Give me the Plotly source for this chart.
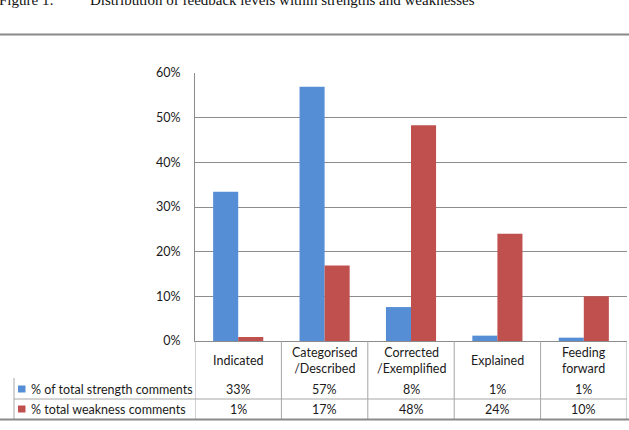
import plotly.graph_objects as go

categories = ["Indicated", "Categorised<br>/Described", "Corrected<br>/Exemplified", "Explained", "Feeding<br>forward"]
series_names = ["% of total strength comments", "% total weakness comments"]
strength = [33.4, 56.9, 7.6, 1.2, 0.75]
weakness = [0.9, 16.9, 48.3, 24.0, 10.0]
colors = ["#558ED5", "#C0504D"]
y_ticks = [0, 10, 20, 30, 40, 50, 60]
caption_label = "Figure 1:"
caption_text = "Distribution of feedback levels within strengths and weaknesses"

W, H = 629, 430
L, R, T, B = 195, 2, 73, 89
pw = W - L - R
ph = H - T - B

def px_x(px):
    return (px - L) / pw

def px_y(py):
    return (H - B - py) / ph

font_family = "Lato, 'Liberation Sans', Arial, sans-serif"
txt_col = "#1a1a1a"
grid_col = "#8c8c8c"
tab_col = "#a6a6a6"

fig = go.Figure()
idx = list(range(len(categories)))
for name, vals, col in zip(series_names, [strength, weakness], colors):
    fig.add_trace(go.Bar(x=idx, y=vals, name=name, marker=dict(color=col, line=dict(width=0)),
                         showlegend=False, hoverinfo="y"))

shapes = []
annotations = []

# table vertical lines
for k in range(len(categories) + 1):
    shapes.append(dict(type="line", xref="x", yref="paper", x0=k - 0.5, x1=k - 0.5,
                       y0=px_y(341), y1=px_y(419), line=dict(color=tab_col, width=1)))
# legend column left line
shapes.append(dict(type="line", xref="paper", yref="paper", x0=px_x(14), x1=px_x(14),
                   y0=px_y(378), y1=px_y(419), line=dict(color=tab_col, width=1)))
# row separator
shapes.append(dict(type="line", xref="paper", yref="paper", x0=px_x(14), x1=1,
                   y0=px_y(399), y1=px_y(399), line=dict(color=tab_col, width=1)))
# document rules
shapes.append(dict(type="line", xref="paper", yref="paper", x0=px_x(0), x1=px_x(W),
                   y0=px_y(419.5), y1=px_y(419.5), line=dict(color="#8a8a8a", width=2)))
shapes.append(dict(type="line", xref="paper", yref="paper", x0=px_x(0), x1=px_x(W),
                   y0=px_y(34.5), y1=px_y(34.5), line=dict(color="#8a8a8a", width=2)))

# legend keys
row_y = [389, 409]
for ry, col in zip(row_y, colors):
    shapes.append(dict(type="rect", xref="paper", yref="paper", x0=px_x(18), x1=px_x(25.5),
                       y0=px_y(ry - 3.5), y1=px_y(ry + 3.5), fillcolor=col, line=dict(width=0)))

tfont = dict(family=font_family, size=12.5, color=txt_col)
# category labels
for i, c in enumerate(categories):
    annotations.append(dict(x=i, y=px_y(360), xref="x", yref="paper", text=c, showarrow=False,
                            xanchor="center", yanchor="middle", font=tfont))
# values
for ry, vals in zip(row_y, [strength, weakness]):
    for i, v in enumerate(vals):
        annotations.append(dict(x=i, y=px_y(ry), xref="x", yref="paper", text=f"{round(v)}%",
                                showarrow=False, xanchor="center", yanchor="middle", font=tfont))
# series names
for ry, name in zip(row_y, series_names):
    annotations.append(dict(x=px_x(29), y=px_y(ry), xref="paper", yref="paper", text=name,
                            showarrow=False, xanchor="left", yanchor="middle", font=tfont))
# caption (cut off at the top edge, as in the reference)
cfont = dict(family="'Liberation Serif', 'Times New Roman', serif", size=15, color="#111")
annotations.append(dict(x=px_x(-3), y=px_y(10), xref="paper", yref="paper", text=caption_label,
                        showarrow=False, xanchor="left", yanchor="bottom", font=cfont))
annotations.append(dict(x=px_x(88), y=px_y(10), xref="paper", yref="paper", text=caption_text,
                        showarrow=False, xanchor="left", yanchor="bottom", font=cfont))

fig.update_layout(
    width=W, height=H,
    margin=dict(l=L, r=R, t=T, b=B, pad=0),
    paper_bgcolor="white", plot_bgcolor="white",
    barmode="group", bargap=0.42, bargroupgap=0,
    shapes=shapes, annotations=annotations,
    font=dict(family=font_family, size=12, color=txt_col),
    xaxis=dict(range=[-0.5, len(categories) - 0.5], showticklabels=False, showgrid=False,
               zeroline=False, showline=True, linecolor=grid_col, linewidth=1, fixedrange=True),
    yaxis=dict(range=[0, 60], tickvals=y_ticks, ticktext=[f"{t}%" for t in y_ticks],
               showgrid=True, gridcolor=grid_col, gridwidth=1, zeroline=False,
               showline=True, linecolor=grid_col, linewidth=1, ticks="", ticklen=0,
               tickfont=dict(family=font_family, size=12.5, color=txt_col), fixedrange=True),
)
fig.update_yaxes(ticklabelstandoff=11)

fig.write_html("out.html")
